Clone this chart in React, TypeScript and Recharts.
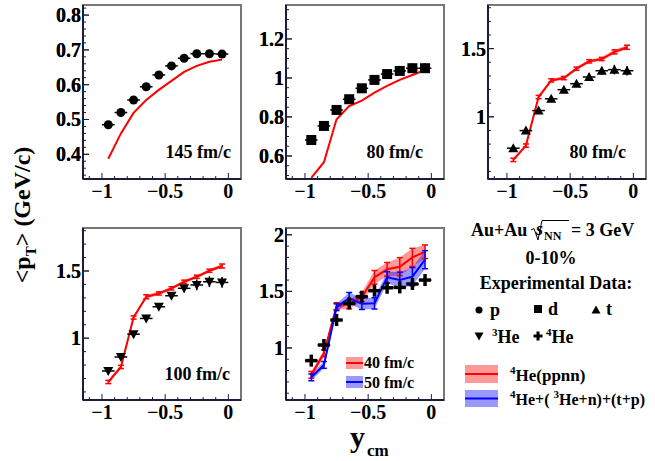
import React from "react";
import { ComposedChart, Line, Area, Scatter, XAxis, YAxis, ErrorBar, ReferenceArea } from "recharts";

const FONT = "'Liberation Serif', 'Times New Roman', serif";
const AXIS = "#1c1c3c";
const FRAME = "#777777";
const RED = "#ff0000";
const BLUE = "#0000ff";

// rapidity bins (centres) and half bin width
const yCm = [-0.95, -0.85, -0.75, -0.65, -0.55, -0.45, -0.35, -0.25, -0.15, -0.05];
const BIN_HALF = 0.05;

const xDomain = [-1.15, 0.1];
const xMajor = [-1, -0.5, 0];
const xMajorLabels = ["\u22121", "\u22120.5", "0"];
const xMinor = [-1.1, -0.9, -0.8, -0.7, -0.6, -0.4, -0.3, -0.2, -0.1];

// protons, 145 fm/c
const protonPt = [0.485, 0.52, 0.556, 0.594, 0.628, 0.654, 0.676, 0.689, 0.689, 0.688];
const protonErr = [0.004, 0.004, 0.005, 0.005, 0.006, 0.007, 0.01, 0.01, 0.008, 0.008];
const protonModel = [0.387, 0.46, 0.519, 0.556, 0.585, 0.611, 0.637, 0.654, 0.666, 0.672];
const protonModelErr = [0.002, 0.002, 0.002, 0.002, 0.002, 0.002, 0.002, 0.002, 0.002, 0.002];

// deuterons, 80 fm/c
const deuteronPt = [0.682, 0.754, 0.836, 0.891, 0.947, 0.99, 1.02, 1.036, 1.05, 1.05];
const deuteronErr = [0.01, 0.01, 0.012, 0.012, 0.015, 0.015, 0.02, 0.02, 0.025, 0.025];
const deuteronModel = [0.488, 0.568, 0.788, 0.856, 0.884, 0.925, 0.959, 0.99, 1.015, 1.041];
const deuteronModelErr = [0.003, 0.003, 0.003, 0.003, 0.003, 0.003, 0.003, 0.003, 0.003, 0.003];

// tritons, 80 fm/c
const tritonPt = [0.77, 0.899, 1.046, 1.132, 1.199, 1.243, 1.292, 1.338, 1.346, 1.338];
const tritonErr = [0.02, 0.02, 0.02, 0.02, 0.02, 0.02, 0.025, 0.03, 0.035, 0.035];
const tritonModel = [0.684, 0.789, 1.145, 1.267, 1.284, 1.353, 1.407, 1.424, 1.476, 1.51];
const tritonModelErr = [0.012, 0.012, 0.012, 0.012, 0.012, 0.012, 0.012, 0.012, 0.015, 0.015];

// helium-3, 100 fm/c
const he3Pt = [0.756, 0.86, 1.03, 1.147, 1.234, 1.316, 1.371, 1.396, 1.42, 1.415];
const he3Err = [0.03, 0.02, 0.02, 0.02, 0.02, 0.025, 0.03, 0.04, 0.04, 0.04];
const he3Model = [0.674, 0.786, 1.154, 1.308, 1.333, 1.371, 1.42, 1.457, 1.502, 1.537];
const he3ModelErr = [0.012, 0.012, 0.012, 0.015, 0.012, 0.012, 0.012, 0.012, 0.012, 0.015];

// helium-4: ppnn at 40 fm/c, sum of channels at 50 fm/c
const he4Pt = [0.888, 1.026, 1.247, 1.394, 1.453, 1.506, 1.532, 1.535, 1.565, 1.6];
const he4Err = [0.02, 0.02, 0.02, 0.02, 0.03, 0.03, 0.03, 0.03, 0.03, 0.03];
const he4Ppnn = [0.762, 0.953, 1.37, 1.385, 1.45, 1.624, 1.695, 1.718, 1.8, 1.85];
const he4PpnnErr = [0.03, 0.03, 0.03, 0.04, 0.04, 0.06, 0.06, 0.08, 0.08, 0.06];
const he4Sum = [0.74, 0.85, 1.36, 1.44, 1.39, 1.394, 1.624, 1.6, 1.63, 1.78];
const he4SumErr = [0.03, 0.03, 0.03, 0.05, 0.05, 0.05, 0.05, 0.07, 0.08, 0.08];

const steps = (a: number, b: number, s: number) => {
  const out: number[] = [];
  for (let v = a; v <= b + 1e-9; v += s) out.push(Math.round(v * 1000) / 1000);
  return out;
};

type Model = { v: number[]; e: number[]; color: string; bars: boolean };

function makeRows(exp: number[], expErr: number[], models: Model[]) {
  return yCm.map((x, i) => {
    const r: any = { x, exp: exp[i], ex: BIN_HALF, ey: expErr[i] };
    models.forEach((m, k) => {
      r[`m${k}`] = m.v[i];
      r[`e${k}`] = m.e[i];
      r[`b${k}`] = [m.v[i] - m.e[i], m.v[i] + m.e[i]];
    });
    return r;
  });
}

const near = (arr: number[], v: number) => arr.findIndex((a) => Math.abs(a - v) < 1e-6);

const XTick = (props: any) => {
  const { x, y, payload } = props;
  const idx = near(xMajor, payload.value);
  const major = idx >= 0;
  return (
    <g>
      <line x1={x} x2={x} y1={y} y2={y - (major ? 6 : 3)} stroke={AXIS} strokeWidth={1} />
      {major && (
        <text x={x} y={y + 12} textAnchor="middle" dominantBaseline="central" fontFamily={FONT} fontWeight="bold" fontSize={20} fill="#000">
          {xMajorLabels[idx]}
        </text>
      )}
    </g>
  );
};

const YTick = (props: any) => {
  const { x, y, payload, majors, labels } = props;
  const idx = near(majors, payload.value);
  const major = idx >= 0;
  return (
    <g>
      <line x1={x} x2={x + (major ? 6 : 3)} y1={y} y2={y} stroke={AXIS} strokeWidth={1} />
      {major && (
        <text x={x - 2} y={y} textAnchor="end" dominantBaseline="central" fontFamily={FONT} fontWeight="bold" fontSize={20} fill="#000">
          {labels[idx]}
        </text>
      )}
    </g>
  );
};

// marker shapes
const Dot = ({ cx, cy, r = 4.5 }: any) => <circle cx={cx} cy={cy} r={r} fill="#000" />;
const Square = ({ cx, cy, s = 10 }: any) => <rect x={cx - s / 2} y={cy - s / 2} width={s} height={s} fill="#000" />;
const TriUp = ({ cx, cy, s = 10 }: any) => (
  <polygon points={`${cx - s / 2},${cy + s * 0.4} ${cx + s / 2},${cy + s * 0.4} ${cx},${cy - s * 0.5}`} fill="#000" />
);
const TriDown = ({ cx, cy, s = 10 }: any) => (
  <polygon points={`${cx - s / 2},${cy - s * 0.4} ${cx + s / 2},${cy - s * 0.4} ${cx},${cy + s * 0.5}`} fill="#000" />
);
const Cross = ({ cx, cy, s = 12, t = 3.5 }: any) => (
  <g fill="#000">
    <rect x={cx - s / 2} y={cy - t / 2} width={s} height={t} />
    <rect x={cx - t / 2} y={cy - s / 2} width={t} height={s} />
  </g>
);

type PanelProps = {
  fx: number; fy: number; fw: number; fh: number;
  yDomain: number[]; yMajor: number[]; yLabels: string[]; yMinor: number[];
  rows: any[]; models: Model[]; Marker: any;
};

function Panel({ fx, fy, fw, fh, yDomain, yMajor, yLabels, yMinor, rows, models, Marker }: PanelProps) {
  const L = 60, T = 10, R = 10, B = 30;
  const yTicks = [...yMajor, ...yMinor].sort((a, b) => a - b);
  const xTicks = [...xMajor, ...xMinor].sort((a, b) => a - b);
  return (
    <div style={{ position: "absolute", left: fx - L, top: fy - T }}>
      <ComposedChart width={fw + L + R} height={fh + T + B} data={rows} margin={{ top: T, right: R, left: 0, bottom: 0 }}>
        <XAxis type="number" dataKey="x" domain={xDomain} allowDataOverflow ticks={xTicks} interval={0} height={B}
          tickSize={0} tickMargin={0} tickLine={false} axisLine={{ stroke: AXIS, strokeWidth: 2 }} tick={(p: any) => <XTick {...p} />} />
        <YAxis type="number" domain={yDomain} allowDataOverflow ticks={yTicks} interval={0} width={L}
          tickSize={0} tickMargin={0} tickLine={false} axisLine={{ stroke: AXIS, strokeWidth: 2 }}
          tick={(p: any) => <YTick {...p} majors={yMajor} labels={yLabels} />} />
        <ReferenceArea x1={xDomain[0]} x2={xDomain[1]} y1={yDomain[0]} y2={yDomain[1]} ifOverflow="visible"
          fill="none" stroke={FRAME} strokeWidth={2} />
        {models.map((m, k) => (
          <Area key={`a${k}`} type="linear" dataKey={`b${k}`} stroke="none" fill={m.color} fillOpacity={0.4} isAnimationActive={false} />
        ))}
        {models.map((m, k) => (
          <Line key={`l${k}`} type="linear" dataKey={`m${k}`} stroke={m.color} strokeWidth={2} dot={false} isAnimationActive={false}>
            {m.bars && <ErrorBar dataKey={`e${k}`} stroke={m.color} width={3} strokeWidth={1.5} />}
          </Line>
        ))}
        <Scatter dataKey="exp" shape={(p: any) => <Marker cx={p.cx} cy={p.cy} />} isAnimationActive={false}>
          <ErrorBar dataKey="ex" direction="x" width={0} stroke="#000" strokeWidth={1.5} />
          <ErrorBar dataKey="ey" direction="y" width={0} stroke="#000" strokeWidth={1.5} />
        </Scatter>
      </ComposedChart>
    </div>
  );
}

const model = (v: number[], e: number[], color = RED, bars = true): Model => ({ v, e, color, bars });

const protonModels = [model(protonModel, protonModelErr, RED, false)];
const deuteronModels = [model(deuteronModel, deuteronModelErr, RED, false)];
const tritonModels = [model(tritonModel, tritonModelErr)];
const he3Models = [model(he3Model, he3ModelErr)];
const he4Models = [model(he4Ppnn, he4PpnnErr), model(he4Sum, he4SumErr, BLUE)];

const panels: PanelProps[] = [
  {
    fx: 83, fy: 5, fw: 158, fh: 174, yDomain: [0.329, 0.829],
    yMajor: [0.4, 0.5, 0.6, 0.7, 0.8], yLabels: ["0.4", "0.5", "0.6", "0.7", "0.8"], yMinor: steps(0.34, 0.82, 0.02),
    rows: makeRows(protonPt, protonErr, protonModels), models: protonModels, Marker: Dot,
  },
  {
    fx: 286, fy: 5, fw: 158, fh: 174, yDomain: [0.482, 1.374],
    yMajor: [0.6, 0.8, 1, 1.2], yLabels: ["0.6", "0.8", "1", "1.2"], yMinor: steps(0.5, 1.35, 0.05),
    rows: makeRows(deuteronPt, deuteronErr, deuteronModels), models: deuteronModels, Marker: Square,
  },
  {
    fx: 488, fy: 5, fw: 158, fh: 174, yDomain: [0.544, 1.82],
    yMajor: [1, 1.5], yLabels: ["1", "1.5"], yMinor: steps(0.6, 1.8, 0.1),
    rows: makeRows(tritonPt, tritonErr, tritonModels), models: tritonModels, Marker: TriUp,
  },
  {
    fx: 83, fy: 228, fw: 158, fh: 172, yDomain: [0.54, 1.82],
    yMajor: [1, 1.5], yLabels: ["1", "1.5"], yMinor: steps(0.6, 1.8, 0.1),
    rows: makeRows(he3Pt, he3Err, he3Models), models: he3Models, Marker: TriDown,
  },
  {
    fx: 286, fy: 228, fw: 158, fh: 172, yDomain: [0.54, 2.06],
    yMajor: [1, 1.5, 2], yLabels: ["1", "1.5", "2"], yMinor: steps(0.6, 2.0, 0.1),
    rows: makeRows(he4Pt, he4Err, he4Models), models: he4Models, Marker: Cross,
  },
];

const Sup = ({ n }: { n: string }) => (
  <tspan fontSize={11} dy={-7}>{n}</tspan>
);

export default function App() {
  return (
    <div style={{ position: "fixed", left: 0, top: 0, width: 655, height: 461, background: "#fff", overflow: "hidden" }}>
      {panels.map((p, i) => <Panel key={i} {...p} />)}
      <svg width={655} height={461} style={{ position: "absolute", left: 0, top: 0, pointerEvents: "none" }}
        fontFamily={FONT} fontWeight="bold" fill="#000">
        {/* panel tags */}
        <g fontSize={18} dominantBaseline="central" textAnchor="end">
          <text x={231} y={152}>145 fm/c</text>
          <text x={423} y={152}>80 fm/c</text>
          <text x={626} y={152}>80 fm/c</text>
          <text x={230} y={374}>100 fm/c</text>
        </g>

        {/* legend inside the 4He panel */}
        <rect x={346} y={357} width={17} height={12} fill={RED} fillOpacity={0.4} />
        <line x1={346} x2={363} y1={363} y2={363} stroke={RED} strokeWidth={2} />
        <rect x={346} y={376} width={17} height={12} fill={BLUE} fillOpacity={0.4} />
        <line x1={346} x2={363} y1={382} y2={382} stroke={BLUE} strokeWidth={2} />
        <text x={364} y={362.5} fontSize={16} dominantBaseline="central">40 fm/c</text>
        <text x={364} y={382} fontSize={16} dominantBaseline="central">50 fm/c</text>

        {/* axis titles */}
        <text transform="translate(30,215) rotate(-90)" textAnchor="middle" fontSize={24}>
          &lt;p<tspan fontSize={15} dy={6}>T</tspan><tspan dy={-6}>&gt; (GeV/c)</tspan>
        </text>
        <text x={350} y={447} fontSize={30}>y</text>
        <text x={367} y={456} fontSize={17}>cm</text>

        {/* collision system and species key */}
        <text x={471} y={230} fontSize={18} dominantBaseline="central">Au+Au</text>
        <path d="M531,230 L534,228.5 L538,240 L542,220.5 L569,220.5" fill="none" stroke="#000" strokeWidth={1} />
        <text x={536} y={235} fontSize={18} fontStyle="italic">s</text>
        <text x={544} y={240} fontSize={12}>NN</text>
        <text x={571} y={230} fontSize={18} dominantBaseline="central">= 3 GeV</text>
        <text x={551} y={258} fontSize={18} textAnchor="middle" dominantBaseline="central">0-10%</text>
        <text x={556} y={283} fontSize={18} textAnchor="middle" dominantBaseline="central">Experimental Data:</text>

        <Dot cx={479} cy={310} r={3.5} />
        <text x={490} y={310} fontSize={18} dominantBaseline="central">p</text>
        <Square cx={538} cy={309} s={8} />
        <text x={548} y={309} fontSize={18} dominantBaseline="central">d</text>
        <TriUp cx={596} cy={310} s={9} />
        <text x={606} y={309} fontSize={18} dominantBaseline="central">t</text>

        <TriDown cx={479} cy={336} s={9} />
        <text x={492} y={343} fontSize={18}><Sup n="3" /><tspan dy={7}>He</tspan></text>
        <Cross cx={538} cy={336} s={9} t={3} />
        <text x={546} y={343} fontSize={18}><Sup n="4" /><tspan dy={7}>He</tspan></text>

        {/* model key */}
        <rect x={465} y={365} width={33} height={18} fill={RED} fillOpacity={0.4} />
        <line x1={465} x2={498} y1={374} y2={374} stroke={RED} strokeWidth={2} />
        <rect x={465} y={390} width={33} height={17} fill={BLUE} fillOpacity={0.4} />
        <line x1={465} x2={498} y1={398.5} y2={398.5} stroke={BLUE} strokeWidth={2} />
        <text x={510} y={381} fontSize={17}><Sup n="4" /><tspan dy={7}>He(ppnn)</tspan></text>
        <text x={510} y={405} fontSize={16}>
          <Sup n="4" /><tspan dy={7}>He+( </tspan><Sup n="3" /><tspan dy={7}>He+n)+(t+p)</tspan>
        </text>
      </svg>
    </div>
  );
}
